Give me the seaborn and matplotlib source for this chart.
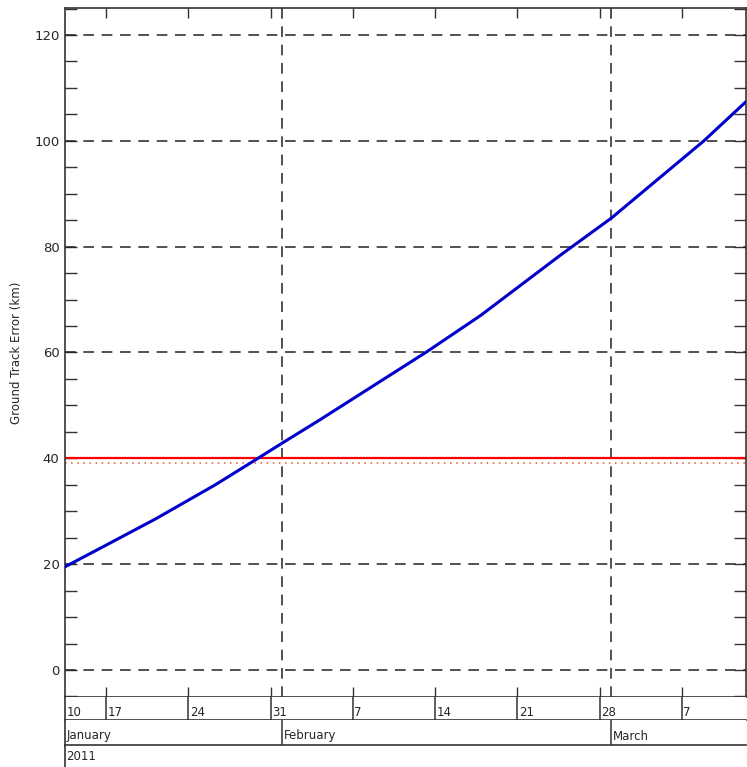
import matplotlib
matplotlib.use("Agg")
import matplotlib.pyplot as plt
import matplotlib.transforms as mtransforms
from matplotlib.lines import Line2D
from matplotlib.ticker import MultipleLocator, NullFormatter
import pandas as pd
import seaborn as sns

# ground track error
track_dates = ["2011-01-13 12:00", "2011-01-17 00:00", "2011-01-21 04:00", "2011-01-26 07:00",
               "2011-01-29 22:00", "2011-02-01 00:00", "2011-02-04 05:00",
               "2011-02-13 08:00", "2011-02-17 21:00", "2011-02-24 16:00",
               "2011-03-01 00:00", "2011-03-08 21:00", "2011-03-12 11:00"]
track_error_km = [19.5, 23.6, 28.5, 35.0, 40.0, 42.9, 47.3, 60.2, 67.0, 78.4, 85.4, 100.0, 107.4]

limit_km = 40.0
limit_dotted_km = 39.2

x_start = "2011-01-13 12:00"
x_end = "2011-03-12 11:00"
y_range = (-5.1, 125.1)

week_ticks = ["2011-01-10", "2011-01-17", "2011-01-24", "2011-01-31", "2011-02-07",
              "2011-02-14", "2011-02-21", "2011-02-28", "2011-03-07"]
week_labels = ["10", "17", "24", "31", "7", "14", "21", "28", "7"]
month_starts = ["2011-01-01", "2011-02-01", "2011-03-01"]
month_labels = ["January", "February", "March"]
year_label = "2011"

sns.set_style("white")
plt.rcParams["font.family"] = ["DejaVu Sans"]

df = pd.DataFrame({"date": pd.to_datetime(track_dates), "error": track_error_km})
x0, x1 = pd.Timestamp(x_start), pd.Timestamp(x_end)
weeks = pd.to_datetime(week_ticks)
months = pd.to_datetime(month_starts)

W, H = 747, 767
fig = plt.figure(figsize=(W / 100, H / 100), dpi=100)
left, width = 65 / W, 681 / W
ax = fig.add_axes([left, 70 / H, width, 689 / H])
ax_day = fig.add_axes([left, 47 / H, width, 23 / H], sharex=ax)
ax_mon = fig.add_axes([left, 22 / H, width, 25 / H], sharex=ax)

edge = "#333333"
grid_kw = dict(color="#222222", lw=1.1, ls=(0, (7, 5)), zorder=1)

for v in range(0, 121, 20):
    ax.axhline(v, **grid_kw)
for m in months:
    if x0 < m < x1:
        ax.axvline(m, **grid_kw)

ax.axhline(limit_km, color="red", lw=1.6, zorder=2)
ax.axhline(limit_dotted_km, color="#f05030", lw=1.1, ls=(0, (1, 3)), zorder=2)

sns.lineplot(data=df, x="date", y="error", ax=ax, color="#0000cc", lw=2.2, zorder=3)

ax.set_xlim(x0, x1)
ax.set_ylim(*y_range)
ax.set_xlabel("")
ax.set_ylabel("Ground Track Error (km)", fontsize=8.5)
ax.yaxis.set_label_coords(-0.062, 0.5)
ax.yaxis.set_major_locator(MultipleLocator(20))
ax.yaxis.set_minor_locator(MultipleLocator(5))
ax.set_xticks(weeks[weeks > x0])
ax.xaxis.set_major_formatter(NullFormatter())
ax.tick_params(axis="x", direction="in", length=7.5, width=1, top=True, bottom=True,
               labelbottom=False, color=edge)
ax.tick_params(axis="y", which="both", direction="in", length=8.5, width=1,
               left=True, right=True, labelsize=9.5, pad=4, color=edge)
for s in ax.spines.values():
    s.set_color(edge)
    s.set_linewidth(1.2)

# date rows under the plot
for a in (ax_day, ax_mon):
    a.set_ylim(0, 1)
    a.set_yticks([])
    a.tick_params(axis="x", length=0, labelbottom=False)
    a.spines["top"].set_visible(False)
    a.spines["right"].set_visible(False)
    for s in ("left", "bottom"):
        a.spines[s].set_color(edge)
        a.spines[s].set_linewidth(1.2)

for d, lab in zip(weeks, week_labels):
    if d > x1:
        continue
    xd = max(d, x0)
    if d > x0:
        ax_day.axvline(d, color=edge, lw=1.1)
    ax_day.text(xd, 0.06, lab, fontsize=8.5, ha="left", va="bottom",
                transform=mtransforms.offset_copy(ax_day.transData, fig=fig, x=1.5, y=0, units="dots"))

for m, lab in zip(months, month_labels):
    if m > x1:
        continue
    xm = max(m, x0)
    if m > x0:
        ax_mon.axvline(m, color=edge, lw=1.1)
    ax_mon.text(xm, 0.1, lab, fontsize=8.5, ha="left", va="bottom",
                transform=mtransforms.offset_copy(ax_mon.transData, fig=fig, x=1.5, y=0, units="dots"))

fig.add_artist(Line2D([left, left], [0, 22 / H], color=edge, lw=1.2, transform=fig.transFigure))
fig.text(left + 1.5 / W, 4 / H, year_label, fontsize=8.5, ha="left", va="bottom")

fig.savefig("out.png", dpi=100, facecolor="white")
